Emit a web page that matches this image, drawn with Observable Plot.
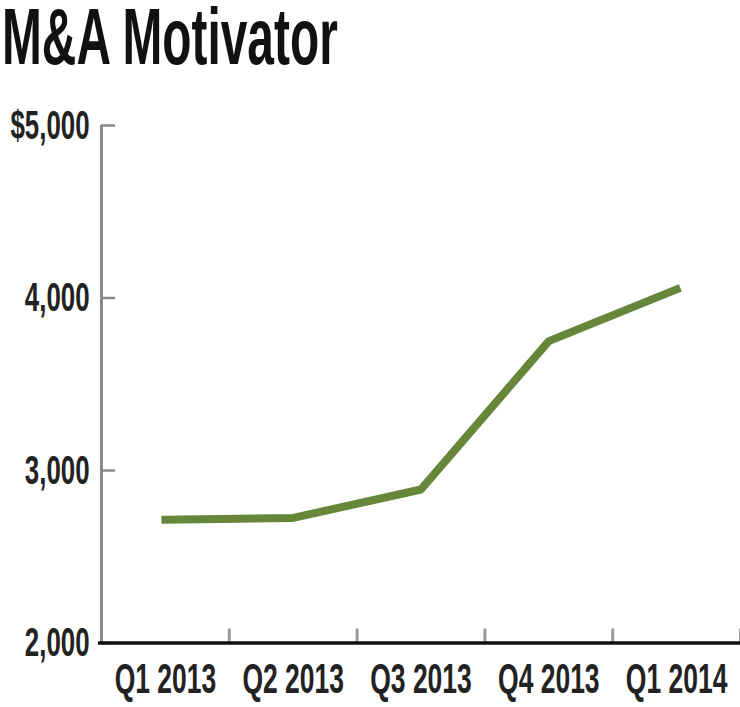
<!DOCTYPE html>
<html>
<head>
<meta charset="utf-8">
<script src="https://cdn.jsdelivr.net/npm/d3@7"></script>
<script src="https://cdn.jsdelivr.net/npm/@observablehq/plot@0.6"></script>
<style>
  html, body { margin: 0; padding: 0; background: #fff; width: 740px; height: 707px; overflow: hidden; }
  #title { position: relative; height: 95px; }
  #title span {
    position: absolute; left: 2px; top: -3px;
    font-family: "Liberation Sans", Arial, sans-serif; font-weight: bold;
    font-size: 80px; line-height: 80px; color: #111; white-space: nowrap;
    transform: scaleX(0.598); transform-origin: 0 0;
  }
  #chart svg { display: block; }
</style>
</head>
<body>
<div id="title"><span>M&amp;A Motivator</span></div>
<div id="chart"></div>
<script>
const quarters = ["Q1 2013", "Q2 2013", "Q3 2013", "Q4 2013", "Q1 2014"];
const values = [2715, 2725, 2890, 3750, 4050];
const yTicks = [2000, 3000, 4000, 5000];
const yTickLabels = ["2,000", "3,000", "4,000", "$5,000"];
const xIndex = quarters.map((q, i) => i);
const xBounds = [0.5, 1.5, 2.5, 3.5, 4.5];

const data = quarters.map((q, i) => ({i, q, v: values[i]}));

const plot = Plot.plot({
  width: 740,
  height: 612,
  marginLeft: 101,
  marginRight: 0,
  marginTop: 30,
  marginBottom: 64.5,
  x: {type: "linear", domain: [-0.5, 4.5], label: null},
  y: {domain: [2000, 5000], label: null},
  style: {fontFamily: "'Liberation Sans', Arial, sans-serif", background: "#fff", overflow: "visible"},
  marks: [
    Plot.axisX(xBounds, {tickSize: -14, tickFormat: () => "", stroke: "#999", strokeWidth: 3, label: null}),
    Plot.axisY(yTicks, {tickSize: -14, tickFormat: () => "", stroke: "#888", strokeWidth: 2.5, label: null}),
    Plot.ruleX([-0.5], {stroke: "#888", strokeWidth: 3}),
    Plot.ruleY([2000], {stroke: "#111", strokeWidth: 3.5, insetLeft: -3}),
    Plot.axisX(xIndex, {tickSize: 0, tickPadding: 20, tickFormat: d => quarters[d], fontSize: 42, fontWeight: "bold", fill: "#222", label: null}),
    Plot.axisY(yTicks, {tickSize: 0, tickPadding: 12, tickFormat: d => yTickLabels[yTicks.indexOf(d)], fontSize: 41, fontWeight: "bold", fill: "#222", label: null}),
    Plot.line(data, {x: "i", y: "v", stroke: "#66873a", strokeWidth: 8, strokeLinecap: "square", strokeLinejoin: "miter"})
  ]
});

document.getElementById("chart").appendChild(plot);

for (const t of plot.querySelectorAll("text")) {
  const s = t.textContent;
  if (!s) continue;
  const len = t.getComputedTextLength();
  if (len > 0) {
    t.setAttribute("textLength", (len * 0.63).toFixed(2));
    t.setAttribute("lengthAdjust", "spacingAndGlyphs");
  }
}
</script>
</body>
</html>
